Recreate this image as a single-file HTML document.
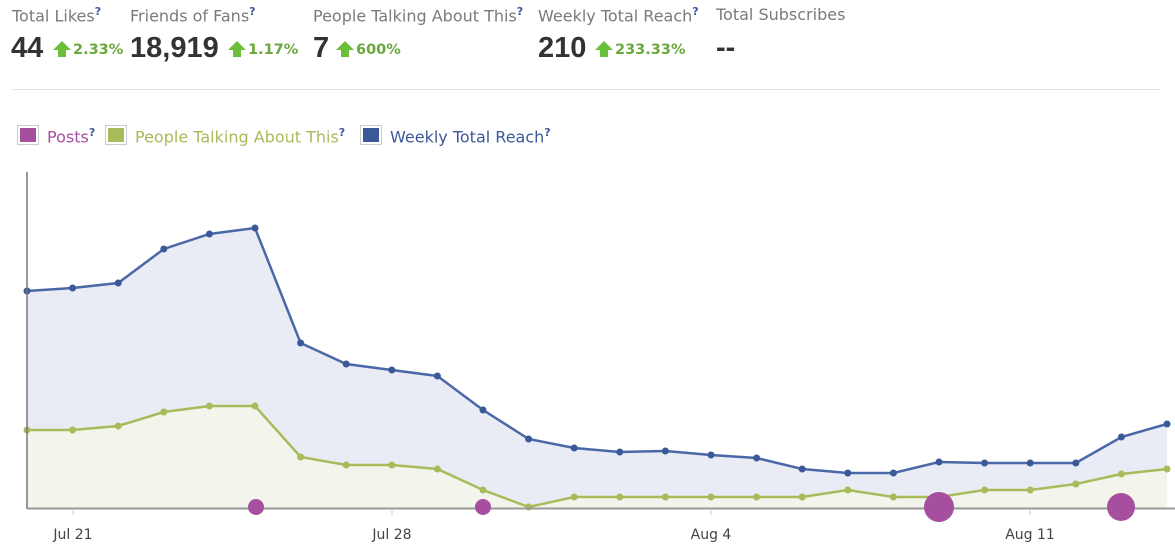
<!DOCTYPE html>
<html><head><style>
body{margin:0;width:1175px;height:551px;background:#fff;font-family:"Liberation Sans",sans-serif;overflow:hidden;position:relative}
.l{position:absolute;top:5px;font-size:16px;color:#7a7a7a;font-family:"DejaVu Sans",sans-serif}
.l sup,.lg sup{color:#3b5998;font-size:11px;font-weight:bold}
.n{position:absolute;top:32px;font-size:29px;font-weight:bold;color:#333;letter-spacing:0}
.p{position:absolute;top:42px;font-size:14.5px;font-weight:bold;color:#6aa83d;font-family:"DejaVu Sans",sans-serif}
.ar{display:inline-block;width:0;height:0;border-left:9px solid transparent;border-right:9px solid transparent;border-bottom:9px solid #6cbf3a;position:relative;top:-4px;margin-right:2px}
.ar:after{content:"";position:absolute;left:-4px;top:8px;width:8px;height:8px;background:#6cbf3a}
.lg{position:absolute;top:126px;font-size:16px;font-family:"DejaVu Sans",sans-serif}
.sw{display:inline-block;width:16px;height:14px;border:2px solid #fff;outline:1px solid #ccc;vertical-align:-2px;margin-right:9px;margin-left:2px}
</style></head><body>
<div class="l" style="left:12px">Total Likes<sup>?</sup></div>
<div class="l" style="left:130px">Friends of Fans<sup>?</sup></div>
<div class="l" style="left:313px">People Talking About This<sup>?</sup></div>
<div class="l" style="left:538px">Weekly Total Reach<sup>?</sup></div>
<div class="l" style="left:716px">Total Subscribes</div>
<div class="n" style="left:11px">44</div><div class="p" style="left:53px"><span class="ar"></span>2.33%</div>
<div class="n" style="left:130px">18,919</div><div class="p" style="left:228px"><span class="ar"></span>1.17%</div>
<div class="n" style="left:313px">7</div><div class="p" style="left:336px"><span class="ar"></span>600%</div>
<div class="n" style="left:538px">210</div><div class="p" style="left:595px"><span class="ar"></span>233.33%</div>
<div class="n" style="left:716px">--</div>
<div style="position:absolute;left:12px;top:89px;width:1148px;height:1px;background:#e3e3e3"></div>
<div class="lg" style="left:16px;color:#a64f9e"><span class="sw" style="background:#a64f9e"></span>Posts<sup>?</sup></div>
<div class="lg" style="left:104px;color:#a8bb5b"><span class="sw" style="background:#a8bb5b"></span>People Talking About This<sup>?</sup></div>
<div class="lg" style="left:359px;color:#3b5998"><span class="sw" style="background:#3b5998"></span>Weekly Total Reach<sup>?</sup></div>
<svg width="1175" height="551" style="position:absolute;left:0;top:0" id="s"></svg>
<script>
var b=[291,288,283,249,234,228,343,364,370,376,410,439,448,452,451,455,458,469,473,473,462,463,463,463,437,424];
var g=[430,430,426,412,406,406,457,465,465,469,490,507,497,497,497,497,497,497,490,497,497,490,490,484,474,469];
function X(i){return 27+i*45.6}
function pts(a){return a.map(function(v,i){return X(i).toFixed(1)+","+v}).join(" ")}
var h='<polygon points="27,508 '+pts(b)+' 1167,508" fill="#e9ecf5"/>';
h+='<polygon points="27,508 '+pts(g)+' 1167,508" fill="#f3f5ec"/>';
h+='<polyline points="'+pts(b)+'" fill="none" stroke="#4a68a8" stroke-width="2.5"/>';
h+='<polyline points="'+pts(g)+'" fill="none" stroke="#a8bb5b" stroke-width="2.5"/>';
b.forEach(function(v,i){h+='<circle cx="'+X(i)+'" cy="'+v+'" r="3.5" fill="#3b5998"/>'});
g.forEach(function(v,i){h+='<circle cx="'+X(i)+'" cy="'+v+'" r="3.5" fill="#a8bb5b"/>'});
h+='<line x1="27" y1="172" x2="27" y2="509" stroke="#777" stroke-width="1.5"/><line x1="27" y1="508.5" x2="1175" y2="508.5" stroke="#999" stroke-width="2"/>';
[[73,"Jul 21"],[392,"Jul 28"],[711,"Aug 4"],[1030,"Aug 11"]].forEach(function(t){h+='<line x1="'+t[0]+'" y1="509" x2="'+t[0]+'" y2="515" stroke="#ccc"/><text x="'+t[0]+'" y="539" font-size="14" fill="#444" text-anchor="middle" font-family="DejaVu Sans">'+t[1]+'</text>'});
[[256,8],[483,8],[939,15],[1121,14]].forEach(function(c){h+='<circle cx="'+c[0]+'" cy="507" r="'+c[1]+'" fill="#a64f9e"/>'});
document.getElementById("s").innerHTML=h;
</script>
</body></html>
